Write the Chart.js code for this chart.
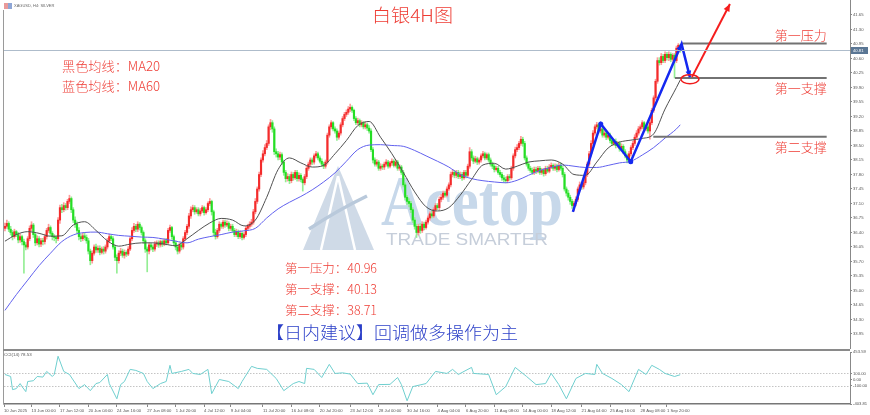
<!DOCTYPE html>
<html>
<head>
<meta charset="utf-8">
<title>白银4H图</title>
<script src="https://cdn.jsdelivr.net/npm/chart.js@4.4.1/dist/chart.umd.min.js"></script>
<style>
  html, body { margin: 0; padding: 0; background: #ffffff; }
  #wrap { position: relative; width: 870px; height: 415px; overflow: hidden; }
  #priceChart { position: absolute; left: 0; top: 0; }
  #cciChart { position: absolute; left: 0; top: 340px; }
</style>
</head>
<body>
<div id="wrap">
  <canvas id="priceChart" width="870" height="352"></canvas>
  <canvas id="cciChart" width="870" height="75"></canvas>
</div>
<script>
// XAGUSD H4 candles (one entry per 4H bar)
var opens = [
  36.50, 36.55, 36.62, 36.48, 36.40, 36.30, 36.42, 36.35, 36.22, 36.30,
  36.18, 36.10, 36.05, 36.25, 36.50, 36.58, 36.35, 36.15, 36.25, 36.12,
  36.20, 36.18, 36.30, 36.45, 36.52, 36.38, 36.30, 36.28, 36.25, 36.70,
  37.00, 36.95, 37.05, 37.00, 37.15, 37.22, 36.95, 36.70, 36.60, 36.45,
  36.30, 36.25, 36.32, 36.28, 36.20, 35.95, 35.72, 35.90, 36.05, 35.98,
  36.02, 35.92, 36.00, 35.95, 36.05, 36.20, 36.30, 36.25, 36.05, 35.80,
  35.72, 35.90, 35.95, 35.85, 35.92, 35.88, 36.00, 36.25, 36.45, 36.55,
  36.48, 36.60, 36.52, 36.40, 36.20, 36.00, 35.95, 36.10, 36.05, 36.00,
  36.12, 36.15, 36.10, 36.18, 36.12, 36.20, 36.15, 36.45, 36.52, 36.30,
  36.15, 36.05, 35.95, 36.10, 36.05, 36.25, 36.40, 36.55, 36.80, 36.95,
  37.00, 36.90, 36.95, 36.85, 36.92, 37.00, 36.88, 36.95, 37.10, 37.15,
  36.90, 36.40, 36.30, 36.45, 36.60, 36.55, 36.65, 36.58, 36.62, 36.50,
  36.55, 36.45, 36.35, 36.42, 36.30, 36.38, 36.28, 36.35, 36.50, 36.55,
  36.60, 36.65, 36.90, 37.15, 37.45, 37.80, 38.15, 38.30, 38.45, 38.55,
  38.95, 39.05, 38.90, 38.35, 38.30, 38.22, 38.28, 38.10, 37.85, 37.70,
  37.75, 37.65, 37.80, 37.72, 37.85, 37.70, 37.78, 37.68, 37.60, 37.75,
  37.95, 38.05, 38.15, 38.10, 38.25, 38.30, 38.20, 38.12, 38.05, 38.00,
  38.10, 38.75, 38.95, 39.05, 38.90, 38.85, 38.70, 38.80, 39.00, 39.15,
  39.25, 39.30, 39.38, 39.42, 39.35, 39.15, 39.05, 39.10, 39.00, 39.05,
  38.95, 39.00, 38.92, 38.85, 38.40, 38.15, 38.05, 38.10, 37.95, 38.00,
  37.98, 38.05, 38.10, 38.00, 38.08, 38.12, 38.02, 38.10, 37.95, 37.98,
  37.85, 37.55, 37.25, 37.15, 37.10, 36.95, 36.70, 36.55, 36.40, 36.55,
  36.45, 36.60, 36.52, 36.65, 36.75, 36.85, 36.80, 36.95, 37.05, 37.00,
  37.20, 37.25, 37.35, 37.30, 37.45, 37.55, 37.80, 37.85, 37.78, 37.85,
  37.75, 37.80, 37.72, 37.85, 37.78, 38.00, 38.35, 38.20, 38.12, 38.18,
  38.10, 38.15, 38.25, 38.30, 38.20, 38.28, 38.15, 38.05, 38.00, 37.92,
  37.95, 37.85, 37.80, 37.72, 37.68, 37.65, 37.75, 37.72, 37.95, 38.25,
  38.40, 38.45, 38.55, 38.65, 38.55, 38.20, 38.05, 37.95, 37.90, 37.85,
  37.92, 37.88, 37.95, 37.85, 37.90, 37.82, 37.95, 37.88, 37.98, 38.02,
  37.95, 38.00, 37.92, 38.02, 37.95, 37.80, 37.45, 37.35, 37.25, 37.15,
  37.05, 37.10, 37.20, 37.45, 37.55, 37.50, 37.60, 37.80, 38.05, 38.30,
  38.55, 38.80, 38.95, 39.00, 38.85, 38.90, 38.75, 38.80, 38.70, 38.75,
  38.62, 38.55, 38.60, 38.50, 38.55, 38.42, 38.48, 38.35, 38.25, 38.15,
  38.30, 38.45, 38.55, 38.70, 38.80, 38.90, 38.95, 39.05, 38.90, 38.95,
  38.85, 39.05, 39.35, 39.65, 40.05, 40.55, 40.50, 40.65, 40.55, 40.70,
  40.62, 40.70, 40.58, 40.68, 40.55, 40.85, 40.92
];
var highs = [
  36.63, 36.70, 36.66, 36.55, 36.45, 36.48, 36.45, 36.40, 36.36, 36.34,
  36.24, 36.16, 36.30, 36.56, 36.66, 36.62, 36.40, 36.32, 36.30, 36.26,
  36.26, 36.36, 36.50, 36.60, 36.56, 36.42, 36.35, 36.32, 36.76, 37.06,
  37.08, 37.12, 37.10, 37.20, 37.30, 37.26, 37.00, 36.78, 36.66, 36.52,
  36.36, 36.38, 36.40, 36.34, 36.26, 36.00, 35.96, 36.10, 36.12, 36.08,
  36.08, 36.05, 36.06, 36.10, 36.26, 36.36, 36.34, 36.30, 36.10, 35.86,
  35.96, 36.02, 36.00, 35.98, 35.96, 36.06, 36.30, 36.52, 36.62, 36.60,
  36.66, 36.64, 36.56, 36.44, 36.25, 36.05, 36.15, 36.14, 36.10, 36.18,
  36.20, 36.20, 36.22, 36.22, 36.25, 36.26, 36.50, 36.58, 36.55, 36.34,
  36.20, 36.10, 36.15, 36.16, 36.30, 36.45, 36.60, 36.86, 37.02, 37.06,
  37.05, 37.00, 37.00, 36.98, 37.05, 37.04, 37.00, 37.14, 37.22, 37.18,
  36.94, 36.48, 36.50, 36.66, 36.64, 36.70, 36.70, 36.68, 36.66, 36.60,
  36.60, 36.50, 36.48, 36.46, 36.44, 36.42, 36.40, 36.55, 36.60, 36.66,
  36.72, 36.96, 37.22, 37.50, 37.86, 38.20, 38.38, 38.52, 38.62, 39.00,
  39.13, 39.10, 38.95, 38.42, 38.36, 38.34, 38.32, 38.15, 37.90, 37.82,
  37.80, 37.86, 37.85, 37.90, 37.90, 37.84, 37.82, 37.72, 37.80, 38.00,
  38.10, 38.20, 38.20, 38.30, 38.36, 38.34, 38.25, 38.18, 38.10, 38.15,
  38.80, 39.00, 39.10, 39.08, 38.95, 38.90, 38.85, 39.05, 39.20, 39.30,
  39.36, 39.44, 39.50, 39.46, 39.38, 39.20, 39.16, 39.14, 39.10, 39.08,
  39.06, 39.04, 38.98, 38.90, 38.45, 38.20, 38.16, 38.14, 38.06, 38.05,
  38.10, 38.16, 38.14, 38.12, 38.18, 38.16, 38.15, 38.14, 38.04, 38.02,
  37.90, 37.60, 37.30, 37.22, 37.15, 37.00, 36.76, 36.60, 36.60, 36.62,
  36.66, 36.65, 36.70, 36.80, 36.90, 36.92, 37.00, 37.10, 37.10, 37.26,
  37.32, 37.40, 37.40, 37.50, 37.60, 37.86, 37.92, 37.90, 37.90, 37.90,
  37.86, 37.85, 37.90, 37.90, 38.05, 38.45, 38.40, 38.25, 38.24, 38.22,
  38.20, 38.30, 38.36, 38.34, 38.32, 38.32, 38.20, 38.10, 38.05, 38.00,
  38.00, 37.90, 37.85, 37.78, 37.74, 37.80, 37.80, 38.00, 38.30, 38.46,
  38.52, 38.60, 38.72, 38.70, 38.60, 38.25, 38.10, 38.00, 37.96, 37.98,
  37.98, 38.00, 38.00, 37.95, 37.95, 38.00, 38.00, 38.04, 38.08, 38.06,
  38.06, 38.05, 38.08, 38.08, 38.00, 37.85, 37.50, 37.42, 37.30, 37.20,
  37.16, 37.26, 37.50, 37.62, 37.60, 37.66, 37.86, 38.10, 38.36, 38.62,
  38.86, 39.00, 39.06, 39.04, 38.95, 38.94, 38.86, 38.84, 38.80, 38.80,
  38.68, 38.65, 38.66, 38.60, 38.60, 38.54, 38.52, 38.40, 38.30, 38.36,
  38.50, 38.60, 38.76, 38.86, 38.96, 39.00, 39.10, 39.08, 39.00, 39.00,
  39.10, 39.40, 39.70, 40.10, 40.62, 40.62, 40.72, 40.70, 40.76, 40.75,
  40.76, 40.74, 40.72, 40.72, 40.90, 40.96, 40.94
];
var lows = [
  36.44, 36.50, 36.42, 36.34, 36.22, 36.26, 36.30, 36.15, 36.16, 36.10,
  35.42, 35.98, 36.00, 36.20, 36.44, 36.28, 36.08, 36.10, 36.05, 36.06,
  36.10, 36.12, 36.24, 36.40, 36.32, 36.22, 36.20, 36.15, 36.20, 36.62,
  36.88, 36.90, 36.94, 36.95, 37.10, 36.88, 36.64, 36.52, 36.38, 36.22,
  36.18, 36.20, 36.22, 36.14, 35.88, 35.62, 35.66, 35.85, 35.92, 35.92,
  35.86, 35.88, 35.88, 35.90, 36.00, 36.15, 36.20, 36.00, 35.72, 35.42,
  35.66, 35.84, 35.80, 35.78, 35.82, 35.84, 35.96, 36.20, 36.40, 36.42,
  36.42, 36.46, 36.34, 36.14, 35.92, 35.45, 35.88, 35.98, 35.94, 35.95,
  36.06, 36.04, 36.05, 36.06, 36.08, 36.10, 36.12, 36.40, 36.24, 36.08,
  35.98, 35.88, 35.90, 35.98, 36.00, 36.20, 36.35, 36.50, 36.74, 36.90,
  36.84, 36.86, 36.80, 36.80, 36.88, 36.82, 36.84, 36.90, 37.05, 36.82,
  36.32, 36.24, 36.26, 36.40, 36.50, 36.50, 36.52, 36.54, 36.44, 36.45,
  36.40, 36.30, 36.30, 36.25, 36.26, 36.22, 36.24, 36.30, 36.45, 36.50,
  36.55, 36.60, 36.85, 37.10, 37.40, 37.75, 38.10, 38.25, 38.40, 38.50,
  38.88, 38.82, 38.28, 38.22, 38.15, 38.16, 38.04, 37.78, 37.62, 37.64,
  37.58, 37.60, 37.66, 37.68, 37.64, 37.64, 37.62, 37.40, 37.55, 37.70,
  37.90, 38.00, 38.04, 38.05, 38.20, 38.15, 38.08, 38.00, 37.94, 37.95,
  38.05, 38.70, 38.90, 38.85, 38.80, 38.62, 38.65, 38.75, 38.95, 39.10,
  39.20, 39.25, 39.32, 39.30, 39.10, 39.00, 39.00, 38.95, 38.95, 38.90,
  38.90, 38.86, 38.80, 38.35, 38.08, 38.00, 38.00, 37.90, 37.90, 37.92,
  37.92, 38.00, 37.95, 37.96, 38.02, 37.98, 37.98, 37.90, 37.90, 37.80,
  37.50, 37.18, 37.08, 37.02, 36.88, 36.64, 36.48, 36.28, 36.34, 36.38,
  36.40, 36.46, 36.48, 36.60, 36.70, 36.75, 36.76, 36.90, 36.95, 36.95,
  37.14, 37.20, 37.25, 37.26, 37.40, 37.50, 37.74, 37.72, 37.72, 37.70,
  37.70, 37.66, 37.68, 37.72, 37.74, 37.95, 38.14, 38.06, 38.08, 38.04,
  38.05, 38.10, 38.20, 38.15, 38.16, 38.10, 38.00, 37.94, 37.86, 37.88,
  37.80, 37.74, 37.66, 37.62, 37.60, 37.60, 37.66, 37.68, 37.90, 38.20,
  38.35, 38.40, 38.50, 38.48, 38.15, 38.00, 37.90, 37.85, 37.80, 37.80,
  37.82, 37.84, 37.80, 37.80, 37.76, 37.78, 37.84, 37.84, 37.94, 37.90,
  37.90, 37.86, 37.88, 37.90, 37.74, 37.40, 37.28, 37.18, 37.08, 36.98,
  36.92, 37.04, 37.15, 37.40, 37.44, 37.45, 37.55, 37.75, 38.00, 38.25,
  38.50, 38.75, 38.90, 38.80, 38.80, 38.70, 38.70, 38.64, 38.65, 38.56,
  38.50, 38.50, 38.44, 38.45, 38.36, 38.38, 38.30, 38.20, 38.08, 38.10,
  38.25, 38.40, 38.50, 38.65, 38.75, 38.85, 38.90, 38.85, 38.85, 38.80,
  38.65, 39.00, 39.30, 39.60, 40.00, 40.44, 40.45, 40.50, 40.50, 40.56,
  40.55, 40.52, 40.54, 40.13, 40.50, 40.80, 40.75
];
var closes = [
  36.55, 36.62, 36.48, 36.40, 36.30, 36.42, 36.35, 36.22, 36.30, 36.18,
  36.10, 36.05, 36.25, 36.50, 36.58, 36.35, 36.15, 36.25, 36.12, 36.20,
  36.18, 36.30, 36.45, 36.52, 36.38, 36.30, 36.28, 36.25, 36.70, 37.00,
  36.95, 37.05, 37.00, 37.15, 37.22, 36.95, 36.70, 36.60, 36.45, 36.30,
  36.25, 36.32, 36.28, 36.20, 35.95, 35.72, 35.90, 36.05, 35.98, 36.02,
  35.92, 36.00, 35.95, 36.05, 36.20, 36.30, 36.25, 36.05, 35.80, 35.72,
  35.90, 35.95, 35.85, 35.92, 35.88, 36.00, 36.25, 36.45, 36.55, 36.48,
  36.60, 36.52, 36.40, 36.20, 36.00, 35.95, 36.10, 36.05, 36.00, 36.12,
  36.15, 36.10, 36.18, 36.12, 36.20, 36.15, 36.45, 36.52, 36.30, 36.15,
  36.05, 35.95, 36.10, 36.05, 36.25, 36.40, 36.55, 36.80, 36.95, 37.00,
  36.90, 36.95, 36.85, 36.92, 37.00, 36.88, 36.95, 37.10, 37.15, 36.90,
  36.40, 36.30, 36.45, 36.60, 36.55, 36.65, 36.58, 36.62, 36.50, 36.55,
  36.45, 36.35, 36.42, 36.30, 36.38, 36.28, 36.35, 36.50, 36.55, 36.60,
  36.65, 36.90, 37.15, 37.45, 37.80, 38.15, 38.30, 38.45, 38.55, 38.95,
  39.05, 38.90, 38.35, 38.30, 38.22, 38.28, 38.10, 37.85, 37.70, 37.75,
  37.65, 37.80, 37.72, 37.85, 37.70, 37.78, 37.68, 37.60, 37.75, 37.95,
  38.05, 38.15, 38.10, 38.25, 38.30, 38.20, 38.12, 38.05, 38.00, 38.10,
  38.75, 38.95, 39.05, 38.90, 38.85, 38.70, 38.80, 39.00, 39.15, 39.25,
  39.30, 39.38, 39.42, 39.35, 39.15, 39.05, 39.10, 39.00, 39.05, 38.95,
  39.00, 38.92, 38.85, 38.40, 38.15, 38.05, 38.10, 37.95, 38.00, 37.98,
  38.05, 38.10, 38.00, 38.08, 38.12, 38.02, 38.10, 37.95, 37.98, 37.85,
  37.55, 37.25, 37.15, 37.10, 36.95, 36.70, 36.55, 36.40, 36.55, 36.45,
  36.60, 36.52, 36.65, 36.75, 36.85, 36.80, 36.95, 37.05, 37.00, 37.20,
  37.25, 37.35, 37.30, 37.45, 37.55, 37.80, 37.85, 37.78, 37.85, 37.75,
  37.80, 37.72, 37.85, 37.78, 38.00, 38.35, 38.20, 38.12, 38.18, 38.10,
  38.15, 38.25, 38.30, 38.20, 38.28, 38.15, 38.05, 38.00, 37.92, 37.95,
  37.85, 37.80, 37.72, 37.68, 37.65, 37.75, 37.72, 37.95, 38.25, 38.40,
  38.45, 38.55, 38.65, 38.55, 38.20, 38.05, 37.95, 37.90, 37.85, 37.92,
  37.88, 37.95, 37.85, 37.90, 37.82, 37.95, 37.88, 37.98, 38.02, 37.95,
  38.00, 37.92, 38.02, 37.95, 37.80, 37.45, 37.35, 37.25, 37.15, 37.05,
  37.10, 37.20, 37.45, 37.55, 37.50, 37.60, 37.80, 38.05, 38.30, 38.55,
  38.80, 38.95, 39.00, 38.85, 38.90, 38.75, 38.80, 38.70, 38.75, 38.62,
  38.55, 38.60, 38.50, 38.55, 38.42, 38.48, 38.35, 38.25, 38.15, 38.30,
  38.45, 38.55, 38.70, 38.80, 38.90, 38.95, 39.05, 38.90, 38.95, 38.85,
  39.05, 39.35, 39.65, 40.05, 40.55, 40.50, 40.65, 40.55, 40.70, 40.62,
  40.70, 40.58, 40.68, 40.55, 40.85, 40.92, 40.81
];

// moving averages, read every 6 bars
var maBars = [
  0, 6, 12, 18, 24, 30, 36, 42, 48, 54,
  60, 66, 72, 78, 84, 90, 96, 102, 108, 114,
  120, 126, 132, 138, 144, 150, 156, 162, 168, 174,
  180, 186, 192, 198, 204, 210, 216, 222, 228, 234,
  240, 246, 252, 258, 264, 270, 276, 282, 288, 294,
  300, 306, 312, 318, 324, 330, 336, 342, 348, 354,
  356
];
var ma20 = [
  36.19, 36.35, 36.42, 36.38, 36.31, 36.32, 36.58, 36.66, 36.45, 36.20,
  36.07, 36.12, 36.15, 36.15, 36.12, 36.08, 36.25, 36.45, 36.63, 36.74,
  36.70, 36.56, 36.70, 37.25, 37.92, 38.20, 38.08, 37.98, 38.02, 38.30,
  38.62, 38.98, 39.08, 38.70, 38.30, 37.85, 37.38, 37.02, 36.92, 37.00,
  37.30, 37.68, 38.03, 38.07, 37.93, 38.00, 38.10, 38.13, 38.15, 38.05,
  37.80, 37.78, 38.10, 38.44, 38.58, 38.63, 38.67, 38.78, 39.38, 39.90,
  40.08
];
var ma60 = [
  34.52, 34.90, 35.25, 35.60, 35.90, 36.18, 36.34, 36.40, 36.41, 36.37,
  36.33, 36.31, 36.29, 36.28, 36.24, 36.19, 36.15, 36.24, 36.30, 36.35,
  36.41, 36.44, 36.50, 36.75, 36.97, 37.13, 37.27, 37.43, 37.62, 37.84,
  38.12, 38.40, 38.51, 38.52, 38.50, 38.48, 38.38, 38.25, 38.12, 37.98,
  37.80, 37.70, 37.65, 37.62, 37.60, 37.66, 37.78, 37.90, 37.97, 38.03,
  38.00, 37.97, 37.97, 38.02, 38.08, 38.12, 38.27, 38.45, 38.68, 38.90,
  39.00
];

// CCI(14) panel
var cciBars = [
  0, 3, 4, 6, 8, 9, 11, 12, 15, 17,
  20, 22, 25, 26, 28, 31, 34, 39, 42, 45,
  48, 50, 54, 55, 59, 61, 63, 66, 69, 73,
  75, 78, 82, 85, 87, 88, 93, 97, 99, 103,
  107, 109, 113, 118, 123, 125, 130, 133, 138, 143,
  147, 152, 155, 158, 159, 163, 167, 171, 174, 178,
  182, 186, 191, 194, 197, 203, 207, 209, 212, 215,
  222, 227, 233, 236, 239, 246, 247, 255, 259, 264,
  269, 275, 280, 285, 288, 292, 296, 301, 306, 311,
  312, 315, 320, 325, 329, 334, 338, 341, 345, 348,
  353, 356
];
var cciValues = [
  83, 50, -167, -150, -67, -117, -200, -33, -20, 50,
  40, 133, 50, 83, 384, 133, 83, -150, -84, -184,
  -67, -50, 83, -67, -318, -84, -33, 167, 150, 100,
  -33, -150, -67, -33, 234, 100, 133, 167, 100, 83,
  167, -234, 0, -33, -150, -33, 217, 184, 167, 17,
  -184, -67, -33, -67, 184, 167, 33, 250, 100, 110,
  90, -67, -60, -251, -84, -80, 33, -84, -351, -117,
  -67, 133, 100, 167, 83, 200, 100, 83, -251, -117,
  200, 50, -84, -67, 100, -84, -318, 17, 100, 83,
  250, 100, 17, -84, -200, 167, 83, 234, 167, 100,
  50, 78.53
];

// axis labels
var priceTicks = [41.65, 41.30, 40.95, 40.60, 40.25, 39.90, 39.55, 39.20, 38.85, 38.50, 38.15, 37.80,
  37.45, 37.10, 36.75, 36.40, 36.05, 35.70, 35.35, 35.00, 34.65, 34.30, 33.95];
var cciTicks = [453.59, 100, 0, -100, -403.81];
var cciLevels = [100, -100];
var tickBars = [-0.5, 14, 29, 44, 59, 75, 90, 105, 119, 136, 151, 166, 182, 197, 212, 228, 243, 258,
  273, 288, 304, 319, 335, 349];
var tickLabels = ['10 Jun 2025', '13 Jun 00:00', '17 Jun 12:00', '20 Jun 04:00', '24 Jun 16:00',
  '27 Jun 08:00', '1 Jul 20:00', '4 Jul 12:00', '9 Jul 04:00', '11 Jul 20:00', '16 Jul 08:00',
  '20 Jul 20:00', '23 Jul 12:00', '28 Jul 00:00', '30 Jul 16:00', '4 Aug 04:00', '6 Aug 20:00',
  '11 Aug 08:00', '14 Aug 00:00', '18 Aug 12:00', '21 Aug 04:00', '25 Aug 16:00', '28 Aug 08:00',
  '1 Sep 20:00'];

// analyst drawings
var levelNames = ['第一压力', '第一支撑', '第二支撑'];
var levels = [40.96, 40.13, 38.71];
var levelStartBars = [356.7, 353.2, 341.8];
var levelEndBar = 433.2;
var levelLabelBar = 419.6;
var zigzagBars = [299.4, 314.1, 329.9, 356.7, 361.1];
var zigzagPrices = [36.90, 39.02, 38.11, 40.95, 40.15];
var arrowBars = [362.2, 382.2];
var arrowPrices = [40.15, 41.915];
var circleBar = 361.1, circlePrice = 40.10;

var SLOTS = 446;            // visible bar slots incl. right margin
var PRICE_MIN = 33.612, PRICE_MAX = 42.012;

Chart.defaults.font.family = '"Liberation Sans", Arial, sans-serif';
var CJK = '"Noto Sans CJK SC", "Noto Sans", sans-serif';
var RED = '#ee3b33', BLUE_TXT = '#2b3fc8', ZIG = '#1428f0';

function fitText(c, txt, x, y, font, color, width, baseline) {
  c.save();
  c.font = font;
  c.fillStyle = color;
  c.textAlign = 'left';
  c.textBaseline = baseline || 'middle';
  var w = c.measureText(txt).width;
  var k = width ? Math.min(1.3, Math.max(0.75, width / w)) : 1;
  c.translate(x, y);
  c.scale(k, 1);
  c.fillText(txt, 0, 0);
  c.restore();
}

function arrowHead(c, x0, y0, x1, y1, size, color) {
  var a = Math.atan2(y1 - y0, x1 - x0);
  c.save();
  c.fillStyle = color;
  c.beginPath();
  c.moveTo(x1, y1);
  c.lineTo(x1 - size * Math.cos(a - 0.42), y1 - size * Math.sin(a - 0.42));
  c.lineTo(x1 - size * Math.cos(a + 0.42), y1 - size * Math.sin(a + 0.42));
  c.closePath();
  c.fill();
  c.restore();
}

function pts(bars, vals) {
  return vals.map(function (v, k) { return { x: bars[k], y: v }; });
}

var priceDecor = {
  id: 'priceDecor',
  beforeDatasetsDraw: function (chart) {
    var c = chart.ctx;
    c.save();
    // watermark logo
    c.fillStyle = '#cfdae7';
    c.beginPath(); c.moveTo(303, 250); c.lineTo(338, 166); c.lineTo(374, 250); c.closePath(); c.fill();
    c.strokeStyle = '#ffffff'; c.lineWidth = 2.5;
    c.beginPath();
    c.moveTo(338, 176); c.lineTo(321, 250);
    c.moveTo(338, 176); c.lineTo(355, 250);
    c.stroke();
    c.strokeStyle = '#b9c9db'; c.lineWidth = 3.5;
    c.beginPath(); c.moveTo(309, 229); c.quadraticCurveTo(338, 210, 367, 196); c.stroke();
    c.restore();
    fitText(c, 'Acetop', 381, 225, 'bold 72px "Liberation Serif", serif', '#c7d8ea', 182, 'alphabetic');
    fitText(c, 'TRADE SMARTER', 386, 240, '17px "Liberation Sans", sans-serif', '#c6ceda', 162, 'middle');
  },
  afterDatasetsDraw: function (chart) {
    var c = chart.ctx, xs = chart.scales.x, ys = chart.scales.y, a = chart.chartArea;
    var last = closes[closes.length - 1];
    var by = Math.round(ys.getPixelForValue(last)) + 0.5;
    c.save();
    c.strokeStyle = '#aebccb';
    c.lineWidth = 1;
    c.beginPath(); c.moveTo(a.left, by); c.lineTo(a.right, by); c.stroke();

    var zx = zigzagBars.map(function (b) { return xs.getPixelForValue(b); });
    var zy = zigzagPrices.map(function (p) { return ys.getPixelForValue(p); });
    arrowHead(c, zx[2], zy[2], zx[3], zy[3], 7, ZIG);
    arrowHead(c, zx[3], zy[3], zx[4], zy[4], 7, ZIG);
    arrowHead(c, xs.getPixelForValue(arrowBars[0]), ys.getPixelForValue(arrowPrices[0]),
      xs.getPixelForValue(arrowBars[1]), ys.getPixelForValue(arrowPrices[1]), 8, '#f51d1d');

    c.strokeStyle = '#f01c1c';
    c.lineWidth = 1.6;
    c.beginPath();
    c.ellipse(xs.getPixelForValue(circleBar), ys.getPixelForValue(circlePrice), 9, 4.5, 0, 0, Math.PI * 2);
    c.stroke();
    c.restore();
  },
  afterDraw: function (chart) {
    var c = chart.ctx, a = chart.chartArea, xs = chart.scales.x, ys = chart.scales.y;
    c.save();
    // frame
    c.strokeStyle = '#9a9a9a'; c.lineWidth = 1;
    c.beginPath(); c.moveTo(3.5, 10); c.lineTo(3.5, 352); c.stroke();
    c.strokeStyle = '#8a8a8a'; c.lineWidth = 2;
    c.beginPath(); c.moveTo(3, 350); c.lineTo(a.right, 350); c.stroke();

    // bid price box on the axis
    var last = closes[closes.length - 1];
    var by = Math.round(ys.getPixelForValue(last)) + 0.5;
    c.fillStyle = '#5a7694';
    c.fillRect(a.right + 1, by - 3.5, 17, 7);
    c.fillStyle = '#ffffff';
    c.font = '4.2px "Liberation Sans"';
    c.textBaseline = 'middle';
    c.fillText(last.toFixed(2), a.right + 3, by);

    // header
    c.fillStyle = '#e99a9a'; c.fillRect(4, 3, 4, 6);
    c.fillStyle = '#8ea6d6'; c.fillRect(8, 3, 4, 6);
    c.fillStyle = '#666666';
    c.font = '4px "Liberation Sans"';
    c.fillText('XAGUSD, H4: SILVER', 14, 6);
    c.restore();

    // captions
    fitText(c, '白银4H图', 372, 15, '300 18px ' + CJK, RED, 81);
    fitText(c, '黑色均线：MA20', 62, 66, '300 13px ' + CJK, RED, 98);
    fitText(c, '蓝色均线：MA60', 62, 86, '300 13px ' + CJK, RED, 98);
    var rowY = [268, 289, 310];
    for (var k = 0; k < levels.length; k++) {
      fitText(c, levelNames[k] + '：' + levels[k].toFixed(2), 285, rowY[k], '300 12.5px ' + CJK, RED, 92);
    }
    fitText(c, '【日内建议】回调做多操作为主', 266, 333, '300 17px ' + CJK, BLUE_TXT, 252);

    // level captions on the right
    var lx = xs.getPixelForValue(levelLabelBar);
    var offs = [-9, 10, 10];
    for (var j = 0; j < levels.length; j++) {
      fitText(c, levelNames[j], lx - 26, ys.getPixelForValue(levels[j]) + offs[j], '300 13px ' + CJK, RED, 52);
    }
  }
};

var levelSets = levels.map(function (lv, k) {
  return {
    type: 'line', label: levelNames[k],
    data: [{ x: levelStartBars[k], y: lv }, { x: levelEndBar, y: lv }],
    borderColor: '#727272', borderWidth: 2, pointRadius: 0, order: 4
  };
});

var ctx = document.getElementById('priceChart').getContext('2d');
var priceChart = new Chart(ctx, {
  type: 'bar',
  data: {
    datasets: [
      {
        label: 'wick',
        data: highs.map(function (h, i) { return { x: i, y: [lows[i], h] }; }),
        backgroundColor: closes.map(function (c, i) { return c >= opens[i] ? '#ff9a9a' : '#94ee94'; }),
        barThickness: 1, grouped: false, order: 20
      },
      {
        label: 'body',
        data: closes.map(function (c, i) { return { x: i, y: [opens[i], c] }; }),
        backgroundColor: closes.map(function (c, i) { return c >= opens[i] ? '#f32b2b' : '#24de24'; }),
        barThickness: 1.5, minBarLength: 1, grouped: false, order: 19
      },
      {
        type: 'line', label: 'MA60', data: pts(maBars, ma60),
        borderColor: '#6161ee', borderWidth: 1, pointRadius: 0, cubicInterpolationMode: 'monotone', order: 12
      },
      {
        type: 'line', label: 'MA20', data: pts(maBars, ma20),
        borderColor: '#505050', borderWidth: 1, pointRadius: 0, cubicInterpolationMode: 'monotone', order: 11
      }
    ].concat(levelSets).concat([
      {
        type: 'line', label: 'path', data: pts(zigzagBars, zigzagPrices),
        borderColor: ZIG, borderWidth: 2.5, pointRadius: [0, 2.5, 2.5, 0, 0],
        pointBackgroundColor: ZIG, pointBorderWidth: 0, order: 3
      },
      {
        type: 'line', label: 'target', data: pts(arrowBars, arrowPrices),
        borderColor: '#f51d1d', borderWidth: 2, pointRadius: 0, order: 2
      }
    ])
  },
  options: {
    responsive: false,
    animation: false,
    events: [],
    layout: { autoPadding: false, padding: { left: 4, right: 0, top: 0, bottom: 4 } },
    plugins: { legend: { display: false }, tooltip: { enabled: false } },
    scales: {
      x: { type: 'linear', min: -0.5, max: SLOTS - 0.5, offset: false, display: false },
      y: {
        position: 'right', min: PRICE_MIN, max: PRICE_MAX,
        afterBuildTicks: function (s) { s.ticks = priceTicks.map(function (v) { return { value: v }; }); },
        afterFit: function (s) { s.width = 20; s.paddingTop = 0; s.paddingBottom = 0; },
        ticks: {
          autoSkip: false, padding: 1, color: '#555555', font: { size: 4.2 },
          callback: function (v) { return Number(v).toFixed(2); }
        },
        grid: { drawOnChartArea: false, tickLength: 2, color: '#888888' },
        border: { display: true, color: '#888888', width: 1 }
      }
    }
  },
  plugins: [priceDecor]
});

// CCI sub-window
var cciDecor = {
  id: 'cciDecor',
  beforeDatasetsDraw: function (chart) {
    var c = chart.ctx, a = chart.chartArea, ys = chart.scales.y;
    c.save();
    c.strokeStyle = '#c4c4c4';
    c.lineWidth = 1;
    c.setLineDash([1.5, 1.5]);
    cciLevels.forEach(function (lv) {
      var y = Math.round(ys.getPixelForValue(lv)) + 0.5;
      c.beginPath(); c.moveTo(a.left, y); c.lineTo(a.right, y); c.stroke();
    });
    c.restore();
  },
  afterDraw: function (chart) {
    var c = chart.ctx, a = chart.chartArea;
    c.save();
    c.strokeStyle = '#9a9a9a'; c.lineWidth = 1;
    c.beginPath(); c.moveTo(3.5, 11); c.lineTo(3.5, a.bottom); c.stroke();
    c.fillStyle = '#555555';
    c.font = '4.4px "Liberation Sans"';
    c.textBaseline = 'middle';
    c.fillText('CCI(14) ' + cciValues[cciValues.length - 1].toFixed(2), 4, 15);
    c.restore();
  }
};

var ctx2 = document.getElementById('cciChart').getContext('2d');
var cciChart = new Chart(ctx2, {
  type: 'line',
  data: {
    datasets: [{
      label: 'CCI(14)', data: pts(cciBars, cciValues),
      borderColor: '#6fcfcf', borderWidth: 1, pointRadius: 0, tension: 0
    }]
  },
  options: {
    responsive: false,
    animation: false,
    events: [],
    layout: { autoPadding: false, padding: { left: 4, right: 0, top: 12, bottom: 0 } },
    plugins: { legend: { display: false }, tooltip: { enabled: false } },
    scales: {
      x: {
        type: 'linear', min: -0.5, max: SLOTS - 0.5, offset: false,
        afterBuildTicks: function (s) { s.ticks = tickBars.map(function (v) { return { value: v }; }); },
        afterFit: function (s) { s.height = 11; s.paddingLeft = 0; s.paddingRight = 0; },
        ticks: {
          autoSkip: false, maxRotation: 0, align: 'start', padding: 1,
          color: '#555555', font: { size: 4.2 },
          callback: function (v, i) { return tickLabels[i]; }
        },
        grid: { drawOnChartArea: false, tickLength: 3, color: '#888888' },
        border: { display: true, color: '#777777', width: 1.5 }
      },
      y: {
        position: 'right', min: -403.81, max: 453.59,
        afterBuildTicks: function (s) { s.ticks = cciTicks.map(function (v) { return { value: v }; }); },
        afterFit: function (s) { s.width = 20; s.paddingTop = 0; s.paddingBottom = 0; },
        ticks: {
          autoSkip: false, padding: 1, color: '#555555', font: { size: 4.2 },
          callback: function (v) { return Number(v).toFixed(2); }
        },
        grid: { drawOnChartArea: false, tickLength: 2, color: '#888888' },
        border: { display: true, color: '#888888', width: 1 }
      }
    }
  },
  plugins: [cciDecor]
});
</script>
</body>
</html>
